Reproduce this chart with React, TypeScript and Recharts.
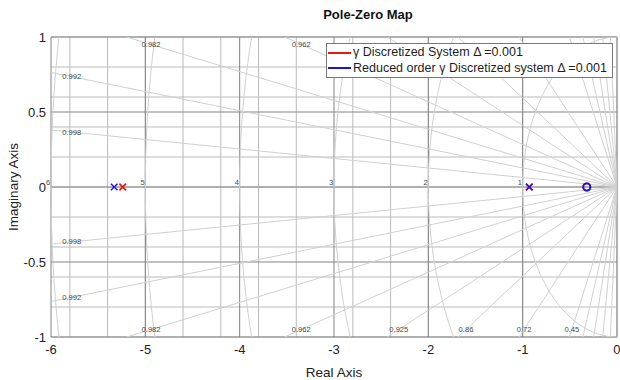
import {
  ComposedChart,
  Line,
  Scatter,
  XAxis,
  YAxis,
  CartesianGrid,
  Legend,
  Label,
  ReferenceDot,
} from "recharts";

// axis ticks
const xTicks = [-6, -5, -4, -3, -2, -1, 0];
const yTicks = [-1, -0.5, 0, 0.5, 1];

// s-plane grid parameters
const wnValues = [1, 2, 3, 4, 5, 6];
const zetaLabeled = [0.998, 0.992, 0.982, 0.962, 0.925, 0.86, 0.72, 0.45];
const zetaExtra = [0.34, 0.24, 0.15, 0.07];

// pole / zero locations (real parts, all on the real axis)
const fullPoles = [-5.24, -0.93];
const reducedPoles = [-5.33, -0.93];
const fullZeros = [-0.32];
const reducedZeros = [-0.32];

const seriesNames = [
  "γ Discretized System Δ =0.001",
  "Reduced order γ Discretized system Δ =0.001",
];
const seriesColors = ["#e8191c", "#1616d8"];

const X_MIN = -6;
const Y_MAX = 1;

// minor grid spacing
const minorX = Array.from({ length: 31 }, (_, i) => X_MIN + i * 0.2);
const minorY = Array.from({ length: 21 }, (_, i) => -1 + i * 0.1);

const arcPoints = (w: number) => {
  const tmax = Math.asin(Math.min(1, Y_MAX / w));
  const n = 60;
  return Array.from({ length: n + 1 }, (_, i) => {
    const t = -tmax + (2 * tmax * i) / n;
    return { x: -w * Math.cos(t), y: w * Math.sin(t) };
  });
};

const rayEnd = (z: number) => {
  const t = Math.tan(Math.acos(z));
  if (-X_MIN * t >= Y_MAX) return { x: -Y_MAX / t, y: Y_MAX, t };
  return { x: X_MIN, y: -X_MIN * t, t };
};

const rayPoints = (z: number) => {
  const e = rayEnd(z);
  return [
    { x: e.x, y: -e.y },
    { x: 0, y: 0 },
    { x: e.x, y: e.y },
  ];
};

// damping labels sit on the plot edge; the upper ones right of x=-3 are under the legend box
const gridLabels: { x: number; y: number; text: string }[] = [];
zetaLabeled.forEach((z) => {
  const e = rayEnd(z);
  if (e.y >= Y_MAX) {
    const x = -0.95 / e.t;
    if (x < -3) gridLabels.push({ x, y: 0.95, text: String(z) });
    gridLabels.push({ x, y: -0.95, text: String(z) });
  } else {
    gridLabels.push({ x: -5.78, y: 5.78 * e.t, text: String(z) });
    gridLabels.push({ x: -5.78, y: -5.78 * e.t, text: String(z) });
  }
});
wnValues.forEach((w) => gridLabels.push({ x: -w - 0.03, y: 0.03, text: String(w) }));

const toPts = (xs: number[]) => xs.map((x) => ({ x, y: 0 }));

const CrossShape = (color: string, width: number) => (props: any) => {
  const { cx, cy } = props;
  const s = 3.3;
  return (
    <path
      d={`M${cx - s},${cy - s}L${cx + s},${cy + s}M${cx - s},${cy + s}L${cx + s},${cy - s}`}
      stroke={color}
      strokeWidth={width}
      fill="none"
    />
  );
};

const CircleShape = (color: string) => (props: any) => (
  <circle cx={props.cx} cy={props.cy} r={3.6} stroke={color} strokeWidth={1.8} fill="none" />
);

const LegendBox = () => (
  <div
    style={{
      border: "1px solid #777",
      background: "#fff",
      padding: "1px 5px 1px 1px",
      fontSize: 12.5,
      lineHeight: "15.5px",
      color: "#1e1e1e",
      whiteSpace: "nowrap",
    }}
  >
    {seriesNames.map((name, i) => (
      <div key={name} style={{ display: "flex", alignItems: "center" }}>
        <span
          style={{
            display: "inline-block",
            width: 23,
            borderTop: `2px solid ${seriesColors[i]}`,
            marginRight: 2,
          }}
        />
        <span>{name}</span>
      </div>
    ))}
  </div>
);

export default function App() {
  return (
    <div
      style={{
        position: "absolute",
        left: 0,
        top: 0,
        width: 620,
        height: 380,
        background: "#fff",
        fontFamily: '"Liberation Sans", Arial, sans-serif',
      }}
    >
      <div
        style={{
          position: "absolute",
          left: 318,
          top: 7,
          width: 100,
          textAlign: "center",
          fontSize: 13,
          fontWeight: "bold",
          color: "#111",
        }}
      >
        Pole-Zero Map
      </div>
      <ComposedChart width={620} height={380} margin={{ top: 37, right: 3, bottom: 0, left: 0 }}>
        <XAxis
          type="number"
          dataKey="x"
          domain={[-6, 0]}
          ticks={xTicks}
          allowDataOverflow
          axisLine={false}
          tickLine={false}
          height={43}
          tick={{ fontSize: 13, fill: "#222" }}
        >
          <Label value="Real Axis" position="insideBottom" offset={3} style={{ fontSize: 13.5, fill: "#222" }} />
        </XAxis>
        <YAxis
          type="number"
          dataKey="y"
          domain={[-1, 1]}
          ticks={yTicks}
          allowDataOverflow
          axisLine={false}
          tickLine={false}
          tickSize={3}
          width={51}
          tick={{ fontSize: 13, fill: "#222" }}
        >
          <Label
            content={(p: any) => {
              const vb = p.viewBox;
              const cx = 13;
              const cy = vb.y + vb.height / 2;
              return (
                <text
                  x={cx}
                  y={cy}
                  transform={`rotate(-90 ${cx} ${cy})`}
                  textAnchor="middle"
                  dominantBaseline="central"
                  style={{ fontSize: 13.5, fill: "#222" }}
                >
                  Imaginary Axis
                </text>
              );
            }}
          />
        </YAxis>

        <CartesianGrid stroke="#bbbbbb" verticalValues={minorX} horizontalValues={minorY} />

        {wnValues.map((w) => (
          <Line
            key={`w${w}`}
            data={arcPoints(w)}
            dataKey="y"
            type="linear"
            dot={false}
            stroke="#d0d0d0"
            strokeWidth={1}
            legendType="none"
            isAnimationActive={false}
          />
        ))}
        {[...zetaLabeled, ...zetaExtra].map((z) => (
          <Line
            key={`z${z}`}
            data={rayPoints(z)}
            dataKey="y"
            type="linear"
            dot={false}
            stroke="#d0d0d0"
            strokeWidth={1}
            legendType="none"
            isAnimationActive={false}
          />
        ))}

        <CartesianGrid stroke="#838383" verticalValues={xTicks} horizontalValues={yTicks} />

        {gridLabels.map((l, i) => (
          <ReferenceDot
            key={`l${i}`}
            x={l.x}
            y={l.y}
            r={0}
            ifOverflow="visible"
            shape={(p: any) => (
              <text
                x={p.cx}
                y={p.cy}
                textAnchor="middle"
                dominantBaseline="central"
                fill="#4a4a4a"
                stroke="none"
                fontSize={7.6}
              >
                {l.text}
              </text>
            )}
          />
        ))}

        <Scatter data={toPts(fullZeros)} shape={CircleShape(seriesColors[0])} legendType="none" isAnimationActive={false} />
        <Scatter data={toPts(reducedZeros)} shape={CircleShape(seriesColors[1])} legendType="none" isAnimationActive={false} />
        <Scatter data={toPts(fullPoles)} shape={CrossShape(seriesColors[0], 1.8)} legendType="none" isAnimationActive={false} />
        <Scatter data={toPts(reducedPoles)} shape={CrossShape(seriesColors[1], 1.4)} legendType="none" isAnimationActive={false} />

        <Legend
          layout="horizontal"
          verticalAlign="middle"
          align="center"
          wrapperStyle={{ left: 326, top: 43, width: "auto" }}
          content={LegendBox}
        />
      </ComposedChart>
    </div>
  );
}
